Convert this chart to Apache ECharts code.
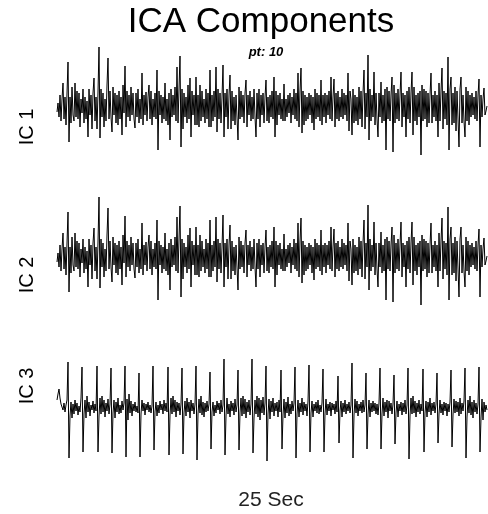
<!DOCTYPE html>
<html>
<head>
<meta charset="utf-8">
<script src="https://cdn.jsdelivr.net/npm/echarts@6/dist/echarts.min.js"></script>
<style>
  html, body { margin: 0; padding: 0; background: #fff; }
  #main { width: 488px; height: 514px; }
</style>
</head>
<body>
<div id="main"></div>
<script>
// component traces (one sample ~ 1px), deviation from baseline
var ic1 = [
  -5, 4, -10, 12, -14, 8, 24, -12, 10, -18, 14, 45, -35, 10, -16, 20, -8, -14, 24, -10,
  16, -12, 14, -20, 8, -6, 18, -16, 10, -12, 6, -30, 18, -8, 12, -22, 14, 29, -14, 10,
  -22, 15, 60, -31, 18, -10, 14, -20, 8, -14, 22, 49, -12, 16, -10, -25, 20, -8, 14, -16,
  12, -18, 16, -12, 10, -28, 22, -6, 41, -20, 16, -10, 12, -14, 20, -8, 14, -12, -21, 14,
  -10, 18, -16, 8, -12, 34, -18, 12, -8, 15, -14, 10, 22, -12, 16, -18, 8, -10, 14, -12,
  37, -43, 16, -8, 12, -16, 10, -12, 24, -14, 8, -18, 14, -33, 18, -10, 12, -8, 20, -14,
  40, -16, 18, 51, -40, 18, -22, 14, -10, 10, -16, 22, -12, 29, -30, 16, -8, 12, -18, 30,
  -18, 12, -20, 22, -14, 16, -10, 8, -16, 18, -12, 14, -20, 37, -20, 12, -14, 16, -10, 40,
  -25, 18, -12, 14, -16, 10, 42, -30, 14, -10, 18, -22, 12, 32, -22, 16, -14, 10, -18, 12,
  14, -33, 20, -12, 16, -10, 12, -16, 14, 27, -20, 12, -8, 16, -14, 10, -12, 18, -10, -30,
  14, -12, 18, -20, 12, -8, 14, -16, 10, 27, -14, 10, -16, 12, -10, 16, -12, 30, -30, 16,
  -18, 12, -8, 14, -12, 8, -14, 23, -14, 8, -10, 12, -6, 14, -16, 10, -8, 18, -12, 14,
  -14, 34, -20, 16, 39, -26, 16, -18, 12, -14, 10, -12, 14, -8, 12, -16, 10, -23, 18, -12,
  14, -10, 12, -14, 27, -18, 12, -10, 14, -16, 12, -8, 16, -12, 30, -14, 10, 28, -20, 14,
  -12, 16, -14, 10, -10, 18, -12, 14, -8, 12, -14, 34, -24, 16, 8, -28, 18, -16, 12, -14,
  10, -18, 20, -12, 16, -20, 14, 37, -22, 14, -10, 52, -33, 18, -14, 12, -10, 35, -18, 14,
  -12, -30, 14, -10, 25, -16, 12, -14, 18, -43, 20, -12, 16, -14, 12, 30, -45, 22, -16, 14,
  -12, 18, -14, 12, 35, -20, 14, -10, 12, -30, 16, -12, 20, -16, 14, 35, -28, 20, -14, 12,
  -18, 14, -10, 16, -48, 22, -14, 18, -12, 16, -20, 14, -16, 12, 34, -16, 12, -10, 16, -14,
  12, -30, 24, -14, 16, 39, -22, 16, -12, 14, -18, 50, -43, 18, 30, -18, 14, -16, 20, -24,
  16, -12, -40, 18, 30, -16, 12, -14, -30, 20, -14, 16, -18, 12, -10, 14, -8, 10, -12, 16,
  -14, 12, 28, -40, 12, -10, 8, 19, -8, -4, 1
];

// IC 2 looks the same as IC 1 in the picture
var ic2 = ic1.slice();

var ic3 = [
  8, 14, 19, 10, 4, 6, -2, 5, -4, 3, 8, 46, -50, -8, 6, -10, 4, -6, 8, -3,
  5, -7, 2, -4, 10, 41, -44, -6, 8, -10, 12, -4, 6, -8, 3, -2, 7, -5, 4, -3,
  42, -44, -8, 10, -6, 12, -4, 8, -9, 5, -3, 9, -6, 4, 40, -45, -5, 8, -10, 6,
  -4, 10, -6, 3, -5, 7, -2, 5, 42, -49, 9, -12, 14, -5, 7, -8, 4, -3, 6, -4,
  2, -5, 35, -49, -6, 8, -3, 5, -7, 4, -2, 6, -4, 3, -5, 2, 42, -42, -4, 6,
  -8, 3, -5, 7, -2, 4, -6, 8, -3, 5, -4, 41, -47, -7, 10, -6, 12, -4, 8, -9,
  6, -3, 5, -7, 4, 40, -46, -5, 7, -8, 10, -4, 6, -10, 8, -3, 5, -6, 4, 42,
  -52, -6, 9, -5, 12, -7, 6, -9, 5, -4, 7, -3, 4, 36, -41, -4, 6, -8, 3, -5,
  7, -2, 5, -6, 8, -4, 3, 49, -47, -8, 10, -6, 4, -9, 7, -3, 5, -7, 9, -4,
  3, 38, -42, -5, 10, -8, 12, -6, 9, -10, 6, -4, 8, -7, 4, 49, -45, -10, 8, -6,
  12, -9, 10, -12, 8, -5, 11, -7, 5, 42, -53, -6, 9, -11, 7, -4, 10, -8, 5, -3,
  6, -9, 8, -4, 38, -41, -7, 9, -10, 6, -5, 11, -8, 4, -6, 7, -3, 5, 41, -50,
  -6, 8, -9, 5, -4, 10, -7, 6, -3, 4, -8, 7, 43, -44, -5, 7, -9, 4, -3, 6,
  -5, 8, -6, 3, -4, 5, 39, -44, -6, 9, -7, 4, -3, 6, -8, 5, -2, 4, -6, 7,
  -4, 32, -35, -3, 7, -9, 5, -4, 8, -6, 4, -3, 6, -5, 3, 45, -50, -7, 9, -5,
  7, -8, 4, -3, 6, -5, 8, -4, 3, 35, -41, -6, 8, -9, 5, -4, 7, -3, 5, -6,
  4, -7, 5, 40, -41, -6, 10, -8, 6, -4, 8, -10, 7, -3, 5, -6, 4, 33, -36, -5,
  7, -9, 4, -3, 6, -7, 5, -4, 8, -6, 3, 40, -51, -8, 10, -6, 12, -5, 7, -9,
  5, -4, 8, -6, 4, -3, 39, -44, -5, 7, -9, 6, -4, 10, -7, 5, -3, 6, -5, 4,
  35, -35, -6, 8, -5, 4, -7, 6, -3, 5, -8, 4, -4, 6, 38, -39, -7, 9, -5, 7,
  -4, 6, -8, 10, -6, 5, -3, 7, 40, -50, -9, 8, -5, 12, -7, 6, -10, 8, -4, 5,
  -6, 4, 41, -44, -10, 9, -12, 6, -4, 3, -2
];

var traces = [ic1, ic2, ic3];
var traceLabels = ['IC 1', 'IC 2', 'IC 3'];
var titleText = 'ICA Components';
var subText = 'pt: 10';
var xLabel = '25 Sec';

var chart = echarts.init(document.getElementById('main'), null, { renderer: 'canvas' });

var font = '"Liberation Sans", Arial, Helvetica, sans-serif';

// grid boxes: 1 value unit ~ 1 px
var grids = [
  { left: 57, right: 1, top: 40, height: 130, min: -63, max: 67 },
  { left: 57, right: 1, top: 190, height: 130, min: -63, max: 67 },
  { left: 57, right: 1, top: 350, height: 120, min: -62, max: 58 }
];
var labelY = [127, 275, 386];

var option = {
  animation: false,
  backgroundColor: '#fff',
  grid: grids.map(function (g) {
    return { left: g.left, right: g.right, top: g.top, height: g.height };
  }),
  xAxis: traces.map(function (t, i) {
    return { type: 'value', gridIndex: i, min: 0, max: t.length - 1, show: false };
  }),
  yAxis: grids.map(function (g, i) {
    return { type: 'value', gridIndex: i, min: g.min, max: g.max, show: false };
  }),
  series: traces.map(function (t, i) {
    return {
      type: 'line',
      xAxisIndex: i,
      yAxisIndex: i,
      showSymbol: false,
      lineStyle: { color: '#000', width: 1 },
      data: t.map(function (v, k) { return [k, v]; })
    };
  }),
  graphic: [
    {
      type: 'text', x: 261, y: 22,
      style: { text: titleText, font: '35px ' + font, fill: '#000', textAlign: 'center', textVerticalAlign: 'middle' }
    },
    {
      type: 'text', x: 266, y: 52,
      style: { text: subText, font: 'italic bold 13px ' + font, fill: '#000', textAlign: 'center', textVerticalAlign: 'middle' }
    },
    {
      type: 'text', x: 271, y: 500,
      style: { text: xLabel, font: '21px ' + font, fill: '#222', textAlign: 'center', textVerticalAlign: 'middle' }
    }
  ].concat(traceLabels.map(function (lab, i) {
    return {
      type: 'text', x: 27, y: labelY[i], rotation: Math.PI / 2,
      style: { text: lab, font: '20px ' + font, fill: '#000', textAlign: 'center', textVerticalAlign: 'middle' }
    };
  }))
};

chart.setOption(option);
</script>
</body>
</html>
